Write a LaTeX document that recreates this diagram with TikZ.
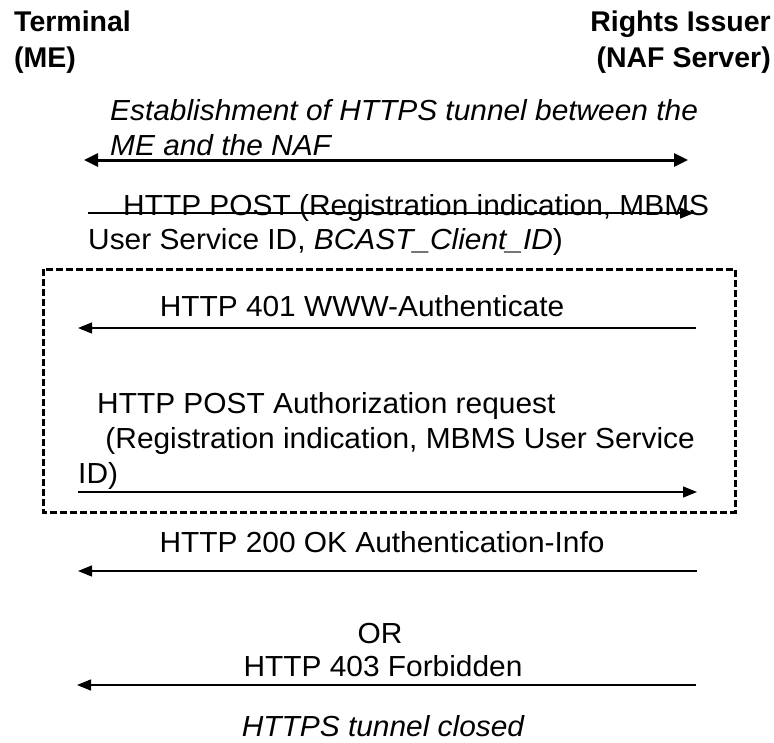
\documentclass[tikz,border=0pt]{standalone}
\usepackage{fontspec}
\setmainfont{Liberation Sans}
\newfontfamily\bodyfont{Liberation Sans}[FakeStretch=1.03]
\usetikzlibrary{arrows.meta}
\begin{document}
\begin{tikzpicture}[x=1pt,y=-1pt,
  lbl/.style={inner sep=0pt,font=\bodyfont\fontsize{29}{35}\selectfont},
  ilbl/.style={inner sep=0pt,font=\bodyfont\fontsize{29}{35}\selectfont\itshape},
  hdr/.style={inner sep=0pt,font=\fontsize{28.5}{35}\selectfont\bfseries},
  msg/.style={line width=1.3pt,-{Triangle[length=14pt,width=11pt]}},
  tunnel/.style={line width=3pt,{Triangle[length=14pt,width=13pt]}-{Triangle[length=14pt,width=13pt]}},
  frame/.style={line width=3pt,dash pattern=on 7pt off 3pt}]
\useasboundingbox (0,0) rectangle (774,742);

% participants
\node[hdr,anchor=base west] (t1) at (14,31) {Terminal};
\node[hdr,anchor=base west] (t2) at (14,67) {(ME)};
\node[hdr,anchor=base east] (r1) at (771,31) {Rights Issuer};
\node[hdr,anchor=base east] (r2) at (771,67) {(NAF Server)};

% lifeline end points for each message
\coordinate (a1) at (84,160);  \coordinate (b1) at (688,160);
\coordinate (a2) at (88,213);  \coordinate (b2) at (694,213);
\coordinate (a3) at (78,328);  \coordinate (b3) at (696,328);
\coordinate (a4) at (78,492);  \coordinate (b4) at (697,492);
\coordinate (a5) at (78,571);  \coordinate (b5) at (697,571);
\coordinate (a6) at (77,685);  \coordinate (b6) at (696,685);

% HTTPS tunnel set-up
\node[ilbl,anchor=base west] (m1a) at (110,120) {Establishment of HTTPS tunnel between the};
\node[ilbl,anchor=base west] (m1b) at (110,155) {ME and the NAF};
\draw[tunnel] (a1) -- (b1);

% registration request
\node[lbl,anchor=base west] (m2a) at (123,215) {HTTP POST (Registration indication, MBMS};
\node[lbl,anchor=base west] (m2b) at (88,249) {User Service ID, \textit{BCAST\_Client\_ID})};
\draw[msg] (a2) -- (b2);

% optional authentication exchange
\draw[frame] (43,269) rectangle (735,512);
\node[lbl,anchor=base] (m3) at (362,316) {HTTP 401 WWW-Authenticate};
\draw[msg] (b3) -- (a3);
\node[lbl,anchor=base west] (m4a) at (97,413) {HTTP POST Authorization request};
\node[lbl,anchor=base west] (m4b) at (97,448) {\ (Registration indication, MBMS User Service};
\node[lbl,anchor=base west] (m4c) at (78,483) {ID)};
\draw[msg] (a4) -- (b4);

% responses
\node[lbl,anchor=base] (m5) at (382,552) {HTTP 200 OK Authentication-Info};
\draw[msg] (b5) -- (a5);
\node[lbl,anchor=base] (m6a) at (380,643) {OR};
\node[lbl,anchor=base] (m6b) at (383,676) {HTTP 403 Forbidden};
\draw[msg] (b6) -- (a6);

% tunnel closure
\node[ilbl,anchor=base] (m7) at (383,736) {HTTPS tunnel closed};
\end{tikzpicture}
\end{document}
